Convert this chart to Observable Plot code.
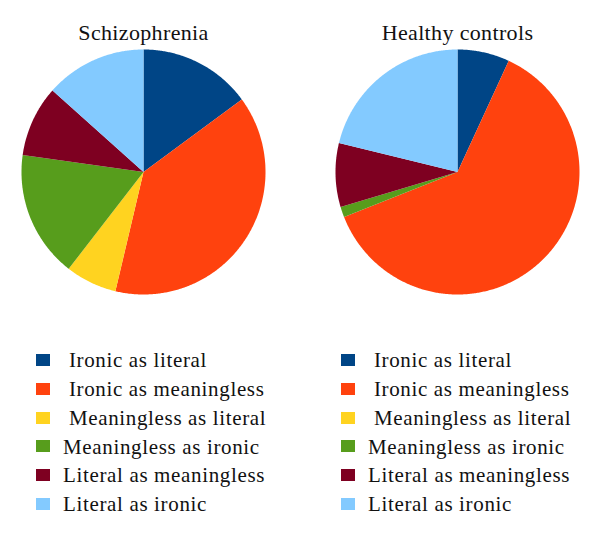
<!DOCTYPE html>
<html>
<head>
<meta charset="utf-8">
<script src="https://cdn.jsdelivr.net/npm/d3@7"></script>
<script src="https://cdn.jsdelivr.net/npm/@observablehq/plot@0.6"></script>
<style>
  html, body { margin: 0; padding: 0; background: #fff; }
  #wrap { position: relative; width: 600px; height: 539px; font-family: "Liberation Serif", "Times New Roman", serif; color: #111; }
  #wrap svg text { letter-spacing: 0.35px; }
  .sw { position: absolute; width: 14px; height: 12px; }
  .lab { position: absolute; font-size: 21px; line-height: 21px; letter-spacing: 0.65px; white-space: nowrap; }
</style>
</head>
<body>
<div id="wrap"></div>
<script>
// ---- data ----
const groups = ["Schizophrenia", "Healthy controls"];
const categories = [
  "Ironic as literal",
  "Ironic as meaningless",
  "Meaningless as literal",
  "Meaningless as ironic",
  "Literal as meaningless",
  "Literal as ironic"
];
const schizophrenia = [14.9, 38.8, 6.8, 16.7, 9.4, 13.4];
const healthyControls = [6.9, 62.1, 0, 1.4, 8.4, 21.2];
const legendLabels = [
  " Ironic as literal",
  " Ironic as meaningless",
  " Meaningless as literal",
  "Meaningless as ironic",
  "Literal as meaningless",
  "Literal as ironic"
];

// ---- build slice geometry from values ----
const seriesByGroup = {"Schizophrenia": schizophrenia, "Healthy controls": healthyControls};
const pts = [];
for (const g of groups) {
  const vals = seriesByGroup[g];
  const total = d3.sum(vals);
  let acc = 0;
  vals.forEach((v, i) => {
    const a0 = acc / total * 2 * Math.PI;
    acc += v;
    const a1 = acc / total * 2 * Math.PI;
    if (v <= 0) return;
    const key = g + "|" + categories[i];
    pts.push({group: g, category: categories[i], key, x: 0, y: 0});
    const n = Math.max(2, Math.ceil((a1 - a0) / (Math.PI / 360)));
    for (let k = 0; k <= n; k++) {
      const a = a0 + (a1 - a0) * k / n;
      pts.push({group: g, category: categories[i], key, x: Math.sin(a), y: Math.cos(a)});
    }
  });
}

const palette = ["#004586", "#ff420e", "#ffd320", "#579d1c", "#7e0021", "#83caff"];

const chart = Plot.plot({
  width: 600,
  height: 310,
  marginTop: 49,
  marginBottom: 16,
  marginLeft: 20,
  marginRight: 20,
  style: {fontFamily: "'Liberation Serif', 'Times New Roman', serif", color: "#111", background: "transparent"},
  fx: {domain: groups, paddingInner: 0.2222, paddingOuter: 0, axis: null},
  x: {domain: [-1, 1], axis: null},
  y: {domain: [-1, 1], axis: null},
  color: {domain: categories, range: palette},
  marks: [
    Plot.line(pts, {x: "x", y: "y", z: "key", fx: "group", fill: "category", stroke: "none", curve: "linear-closed"}),
    Plot.text(groups, {fx: d => d, text: d => d, frameAnchor: "top", dy: -10, lineAnchor: "bottom", fontSize: 22, fill: "#111"})
  ]
});

const wrap = document.getElementById("wrap");
chart.style.position = "absolute";
chart.style.left = "0px";
chart.style.top = "0px";
wrap.appendChild(chart);

// ---- legends (one under each pie) ----
const color = chart.scale("color");
const legendCols = [{sw: 36, tx: 63}, {sw: 341, tx: 368}];
legendCols.forEach(col => {
  categories.forEach((c, i) => {
    const base = 367.7 + 28.8 * i;
    const sw = document.createElement("div");
    sw.className = "sw";
    sw.style.left = col.sw + "px";
    sw.style.top = (base - 13.7) + "px";
    sw.style.background = color.apply(c);
    wrap.appendChild(sw);
    const lab = document.createElement("div");
    lab.className = "lab";
    lab.style.left = col.tx + "px";
    lab.style.top = (base - 17.6) + "px";
    lab.textContent = legendLabels[i].replace(/^ /, "\u00a0");
    wrap.appendChild(lab);
  });
});
</script>
</body>
</html>
